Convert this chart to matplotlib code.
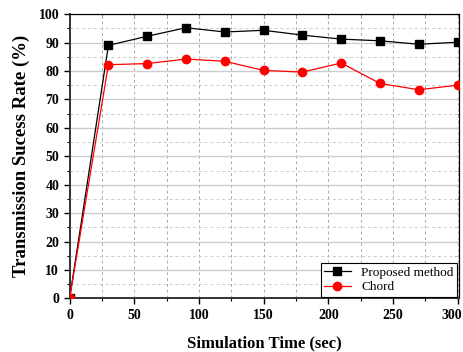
import matplotlib
matplotlib.use("Agg")
import matplotlib.pyplot as plt
import matplotlib.transforms as mtransforms
from matplotlib.ticker import MultipleLocator

# --- Data ---
time_sec = [0, 30, 60, 90, 120, 150, 180, 210, 240, 270, 300]
proposed = [0, 89.0, 92.2, 95.2, 93.7, 94.3, 92.6, 91.2, 90.6, 89.4, 90.1]
chord = [0, 82.2, 82.6, 84.2, 83.4, 80.2, 79.6, 82.8, 75.6, 73.4, 75.0]

plt.rcParams["font.family"] = ["Liberation Serif", "DejaVu Serif"]

fig = plt.figure(figsize=(4.64, 3.52), dpi=100)
ax = fig.add_axes([0.150, 0.152, 0.839, 0.808])

ax.plot(time_sec, proposed, color="black", lw=0.9, marker="s", ms=5.5,
        label="Proposed method", zorder=3)
ax.plot(time_sec, chord, color="red", lw=0.9, marker="o", ms=6,
        label="Chord", zorder=4)

ax.set_xlim(0, 301)
ax.set_ylim(0, 100)
ax.xaxis.set_major_locator(MultipleLocator(50))
ax.xaxis.set_minor_locator(MultipleLocator(25))
ax.yaxis.set_major_locator(MultipleLocator(10))
ax.yaxis.set_minor_locator(MultipleLocator(5))

# grid: dashed verticals every 25, solid horizontal majors, dashed minors
ax.grid(axis="x", which="both", color="#aaaaaa", ls=(0, (3, 3)), lw=0.7)
ax.grid(axis="y", which="major", color="#cccccc", ls="-", lw=1.0)
ax.grid(axis="y", which="minor", color="#cccccc", ls=(0, (3, 3)), lw=0.7)
ax.set_axisbelow(True)

ax.tick_params(which="both", direction="out", top=False, right=False)
ax.tick_params(which="major", length=4, width=1, pad=3.5)
ax.tick_params(which="minor", length=2, width=0.8)
ax.tick_params(labelsize=10)

# inward ticks on top and right
ax_t = ax.secondary_xaxis("top")
ax_t.xaxis.set_major_locator(MultipleLocator(50))
ax_t.xaxis.set_minor_locator(MultipleLocator(25))
ax_t.tick_params(which="both", direction="in", labeltop=False, length=3)
ax_r = ax.secondary_yaxis("right")
ax_r.yaxis.set_major_locator(MultipleLocator(10))
ax_r.yaxis.set_minor_locator(MultipleLocator(5))
ax_r.tick_params(which="both", direction="in", labelright=False, length=3)

for side in ["left", "bottom"]:
    ax.spines[side].set_linewidth(1.4)
    ax.spines[side].set_color("#333333")

ax.set_xlabel("Simulation Time (sec)", fontsize=12, fontweight="bold", labelpad=10)
ax.set_ylabel("Transmission Sucess Rate (%)", fontsize=13.5, fontweight="bold", labelpad=6)

leg = ax.legend(loc="lower right", fontsize=9.5, fancybox=False, framealpha=1,
                edgecolor="black", borderaxespad=0.15, handlelength=2.0,
                borderpad=0.25, labelspacing=0.15)
leg.get_frame().set_linewidth(0.8)

# bold tick labels; nudge the last x label left so it stays inside the figure
fig.canvas.draw()
for lbl in ax.get_xticklabels() + ax.get_yticklabels():
    lbl.set_fontweight("bold")
label_offset = (4 + 3.5) / 72  # tick length + pad, in inches
for tick in ax.xaxis.get_major_ticks():
    if abs(tick.get_loc() - 300) < 1e-6:
        tick.label1.set_horizontalalignment("right")
        tick.label1.set_transform(
            ax.get_xaxis_transform()
            + mtransforms.ScaledTranslation(5 / 100, -label_offset, fig.dpi_scale_trans))

fig.savefig("out.png", dpi=100)
